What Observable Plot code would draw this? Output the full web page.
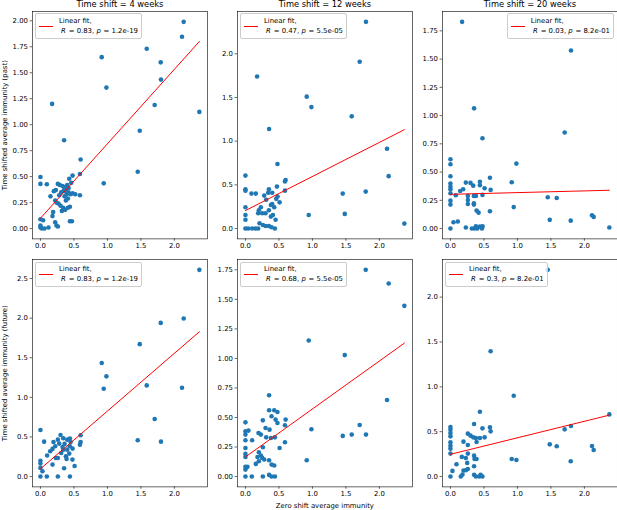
<!DOCTYPE html>
<html>
<head>
<meta charset="utf-8">
<script src="https://cdn.jsdelivr.net/npm/d3@7"></script>
<script src="https://cdn.jsdelivr.net/npm/@observablehq/plot@0.6"></script>
<style>
  body { margin: 0; background: #fff; }
  #fig { position: relative; width: 617px; height: 510px; overflow: hidden; font-family: "DejaVu Sans", sans-serif; background: #fff; }
  .panel { position: absolute; }
  .legend { position: absolute; display: flex; align-items: center; box-sizing: border-box;
    border: 0.6px solid #cccccc; border-radius: 2px; background: rgba(255,255,255,0.8);
    padding: 1.6px 3px 1.6px 2.8px; font-size: 6.9px; line-height: 10.2px; color: #000; white-space: pre; }
  .legend .handle { width: 14.5px; height: 0; border-top: 1px solid #ff0000; margin-right: 5.6px; flex: none; }
  .legend .txt div { height: 10.2px; }
  .legend i { padding-right: 0.6px; }
</style>
</head>
<body>
<div id="fig"></div>
<script>
// ---------- data ----------
const titles = ["Time shift = 4 weeks", "Time shift = 12 weeks", "Time shift = 20 weeks"];
const rowLabels = ["Time shifted average immunity (past)", "Time shifted average immunity (future)"];
const xLabel = "Zero shift average immunity";
const xTicks = [0, 0.5, 1.0, 1.5, 2.0];

const past4 = [[0.915,1.65],[0.945,0.435],[0.985,1.357],[1.453,0.547],[1.483,0.941],[1.587,1.731],[1.706,1.19],[1.796,1.60],[1.80,1.434],[2.114,1.846],[2.139,1.99],[2.373,1.123],
  [0.174,1.20],[0.353,0.85],[0.60,0.665],[0.59,0.525],[0.59,0.32],[0,0.496],[0,0.43],[0.095,0.426],
  [0.26,0.43],[0.29,0.42],[0.33,0.41],[0.37,0.40],[0.40,0.42],[0.43,0.48],[0.48,0.51],[0.46,0.44],
  [0.20,0.36],[0.23,0.37],[0.15,0.31],[0.22,0.27],[0.24,0.25],[0.27,0.24],[0.30,0.22],[0.34,0.20],[0.37,0.18],[0.41,0.20],[0.44,0.21],[0.32,0.17],
  [0.38,0.27],[0.41,0.29],[0.36,0.31],[0.39,0.33],[0.42,0.35],[0.45,0.33],[0.48,0.34],[0.52,0.33],[0.35,0.37],[0.31,0.35],[0.28,0.32],
  [0.19,0.16],[0.18,0.12],[0.42,0.39],[0.38,0.36],
  [0,0.09],[0.04,0.08],[0,0.03],[0,0.01],[0.02,0.0],[0.06,0.0],[0.12,0.01],[0.22,0.06],[0.24,0.03],[0.26,0.02],[0.44,0.07],[0.47,0.07]];

const past12 = [[1.80,2.366],[1.706,1.91],[0.174,1.74],[0.915,1.51],[0.985,1.39],[1.587,1.284],[0.353,1.14],[2.114,0.914],[0.478,0.739],[2.139,0.60],[1.796,0.423],[1.453,0.40],[1.483,0.168],[0.945,0.156],[2.373,0.057],
  [0,0.606],[0,0.45],[0,0.434],[0,0.244],[0,0.156],[0,0.10],[0,0],[0.04,0],[0.10,0],[0.15,0],[0.19,0],[0.09,0.40],[0.155,0.40],
  [0.21,0.06],[0.26,0.04],[0.30,0.03],[0.35,0.03],[0.39,0.015],[0.44,0],[0.45,0.10],[0.59,0.434],[0.60,0.556],[0.59,0.54],[0.47,0.48],[0.51,0.30],
  [0.40,0.41],[0.35,0.45],[0.34,0.41],[0.28,0.377],[0.31,0.33],[0.23,0.244],[0.20,0.21],[0.19,0.175],[0.25,0.175],[0.30,0.175],[0.35,0.21],
  [0.38,0.27],[0.40,0.28],[0.43,0.244],[0.38,0.137],[0.41,0.156],[0.46,0.34],[0.48,0.366]];

const past20 = [[0.174,1.83],[1.80,1.576],[0.353,1.064],[1.706,0.851],[0.478,0.80],[0.985,0.575],[0.915,0.41],[0.945,0.19],[1.453,0.277],[1.587,0.27],[1.483,0.077],[1.796,0.07],[2.114,0.118],[2.139,0.103],[2.373,0.009],
  [0,0.613],[0,0.569],[0,0.463],[0,0.398],[0,0.371],[0,0.348],[0,0.312],[0,0.247],[0,0.212],[0,0],
  [0.08,0.295],[0.045,0.056],[0.11,0.062],[0.145,0.333],[0.19,0.348],[0.23,0.407],[0.23,0.009],[0.26,0.289],[0.26,0.253],[0.26,0.218],
  [0.30,0.404],[0.32,0],[0.34,0.38],[0.35,0.289],[0.35,0.224],[0.35,0.212],[0.38,0.289],[0.36,0],[0.39,0.159],[0.42,0.141],
  [0.44,0.415],[0.44,0.383],[0.44,0.018],[0.47,0],[0.48,0.02],[0.478,0.298],[0.51,0.357],[0.59,0.45],[0.60,0.342],[0.59,0.153],[0.38,0.02],[0.40,0]];

const future4 = [[2.373,2.61],[2.139,1.996],[1.796,1.94],[1.483,1.672],[0.915,1.433],[0.985,1.265],[0.945,1.109],[1.587,1.151],[2.114,1.122],[1.706,0.727],[1.453,0.458],[1.80,0.441],
  [0,0.588],[0.055,0.441],[0,0.20],[0,0.164],[0,0.109],[0.03,0.067],[0,0],[0.095,0],[0.26,0],[0.44,0],
  [0.18,0.151],[0.353,0.105],[0.51,0.134],[0.478,0.214],[0.60,0.521],[0.59,0.403],[0.60,0.437],[0.30,0.525],[0.195,0.437],[0.26,0.466],
  [0.34,0.483],[0.40,0.466],[0.44,0.479],[0.48,0.353],[0.145,0.319],[0.18,0.349],[0.22,0.382],[0.28,0.416],[0.33,0.374],[0.36,0.412],
  [0.40,0.34],[0.43,0.29],[0.38,0.256],[0.39,0.223],[0.23,0.235],[0.26,0.235],[0.10,0.265],[0.31,0.298],[0.34,0.34],[0.44,0.382],[0.45,0.437]];

const future12 = [[1.796,1.75],[2.139,1.634],[2.373,1.445],[0.945,1.152],[1.483,1.028],[2.114,0.648],[0.353,0.688],[0.985,0.40],[1.706,0.437],[1.587,0.355],[1.453,0.344],[1.80,0.355],[0.915,0.138],
  [0,0.459],[0,0.383],[0,0.355],[0,0.307],[0,0.242],[0,0.192],[0,0.166],[0,0.082],[0,0.059],[0,0],
  [0.045,0.389],[0.03,0.082],[0.10,0.307],[0.095,0],[0.155,0.107],[0.195,0.369],[0.23,0.355],[0.26,0.476],[0.30,0.411],[0.353,0.561],
  [0.36,0.397],[0.39,0.51],[0.43,0.561],[0.45,0.482],[0.478,0.547],[0.478,0.454],[0.60,0.482],[0.59,0.434],[0.59,0.29],[0.51,0.242],
  [0.44,0.332],[0.38,0.327],[0.31,0.332],[0.26,0.248],[0.20,0.206],[0.23,0.178],[0.18,0.166],[0.25,0.158],[0.20,0.13],[0.28,0.144],
  [0.353,0.138],[0.39,0.101],[0.43,0.093],[0.353,0.014],[0.39,0],[0.44,0],[0.26,0]];

const future20 = [[1.453,2.304],[0.60,1.396],[0.945,0.90],[0.44,0.722],[2.373,0.693],[1.80,0.563],[1.706,0.526],[0.353,0.585],[0.478,0.537],[0.59,0.548],[0.60,0.504],
  [1.483,0.359],[1.587,0.337],[2.114,0.341],[2.139,0.296],[0.915,0.196],[0.985,0.185],[1.796,0.17],
  [0,0.552],[0,0.522],[0,0.485],[0,0.448],[0,0.381],[0,0.344],[0,0.311],[0,0.256],[0,0],
  [0.03,0.063],[0.09,0.137],[0.155,0],[0.18,0.022],[0.195,0.067],[0.23,0.07],[0.26,0.085],[0.17,0.219],[0.195,0.389],[0.26,0.478],
  [0.26,0.352],[0.30,0.456],[0.34,0.437],[0.38,0.43],[0.39,0.385],[0.44,0.43],[0.51,0.437],[0.26,0.256],[0.23,0.207],[0.25,0.152],
  [0.353,0.233],[0.36,0.196],[0.39,0.196],[0.353,0.115],[0.353,0.019],[0.38,0],[0.43,0],[0.478,0],[0.45,0.019]];

const panelData = [past4, past12, past20, future4, future12, future20];
const fitIntercepts = [0.099, 0.206, 0.303, 0.097, 0.166, 0.248];
const fitSlopes = [0.717, 0.390, 0.0152, 0.7295, 0.406, 0.184];
const rValues = ["0.83", "0.47", "0.03", "0.83", "0.68", "0.3"];
const pValues = ["1.2e-19", "5.5e-05", "8.2e-01", "1.2e-19", "5.5e-05", "8.2e-01"];
const legendRight = [false, false, true, false, false, false];
const yTicks = [
  [0, 0.25, 0.5, 0.75, 1.0, 1.25, 1.5, 1.75, 2.0],
  [0, 0.5, 1.0, 1.5, 2.0],
  [0, 0.25, 0.5, 0.75, 1.0, 1.25, 1.5, 1.75],
  [0, 0.5, 1.0, 1.5, 2.0, 2.5],
  [0, 0.25, 0.5, 0.75, 1.0, 1.25, 1.5, 1.75],
  [0, 0.5, 1.0, 1.5, 2.0]
];
const yTickDecimals = [2, 1, 2, 1, 2, 1];

// ---------- layout ----------
const colLeft = [31.7, 236.7, 441.7];
const rowTop = [11.0, 259.3];
const frameW = 174.8, frameH = 227.4;
const ML = 32, MT = 12, MR = 6, MB = 24;

const fig = document.getElementById("fig");
const pad = ([a, b]) => [a - 0.05 * (b - a), b + 0.05 * (b - a)];
const allX = panelData.flat().map(d => d[0]);
const xDomain = pad(d3.extent(allX));

panelData.forEach((raw, i) => {
  const row = Math.floor(i / 3), col = i % 3;
  const pts = raw.map(([x, y]) => ({x, y}));
  const yDomain = pad(d3.extent(pts, d => d.y));
  const fitX = d3.extent(pts, d => d.x);
  const fit = fitX.map(x => ({x, y: fitIntercepts[i] + fitSlopes[i] * x}));
  const marks = [
    Plot.axisX({ticks: xTicks, tickFormat: d3.format(".1f"), tickSize: 2.4, tickPadding: 2.2, label: null, strokeWidth: 0.6}),
    Plot.axisY({ticks: yTicks[i], tickFormat: d3.format(`.${yTickDecimals[i]}f`), tickSize: 2.4, tickPadding: 2.2, label: null, strokeWidth: 0.6}),
    Plot.dot(pts, {x: "x", y: "y", r: 2.3, fill: "#1f77b4", stroke: "none"}),
    Plot.line(fit, {x: "x", y: "y", stroke: "#ff0000", strokeWidth: 1}),
    Plot.frame({stroke: "#000", strokeWidth: 0.6})
  ];
  if (row === 0) marks.push(Plot.text([titles[col]], {text: d => d, frameAnchor: "top", dy: -7, fontSize: 8.3, lineAnchor: "middle", textAnchor: "middle", fill: "#000"}));
  if (col === 0) marks.push(Plot.text([rowLabels[row]], {text: d => d, frameAnchor: "left", dx: -28, rotate: -90, fontSize: 6.9, lineAnchor: "middle", textAnchor: "middle", fill: "#000"}));
  if (row === 1 && col === 1) marks.push(Plot.text([xLabel], {text: d => d, frameAnchor: "bottom", dy: 18.7, fontSize: 6.9, lineAnchor: "middle", textAnchor: "middle", fill: "#000"}));

  const svg = Plot.plot({
    width: ML + frameW + MR,
    height: MT + frameH + MB,
    marginLeft: ML, marginRight: MR, marginTop: MT, marginBottom: MB,
    x: {domain: xDomain},
    y: {domain: yDomain},
    style: {fontFamily: "DejaVu Sans", fontSize: "6.9px", background: "transparent", overflow: "visible", color: "#000"},
    marks
  });
  svg.classList.add("panel");
  svg.style.left = (colLeft[col] - ML) + "px";
  svg.style.top = (rowTop[row] - MT) + "px";
  fig.appendChild(svg);

  const lg = document.createElement("div");
  lg.className = "legend";
  lg.innerHTML = `<span class="handle"></span><div class="txt"><div>Linear fit,</div><div> <i>R</i> = ${rValues[i]}, <i>p</i> = ${pValues[i]}</div></div>`;
  lg.style.top = (rowTop[row] + 2.3) + "px";
  if (legendRight[i]) lg.style.right = (617 - (colLeft[col] + frameW) + 2.6) + "px";
  else lg.style.left = (colLeft[col] + 3.3) + "px";
  fig.appendChild(lg);
});
</script>
</body>
</html>
